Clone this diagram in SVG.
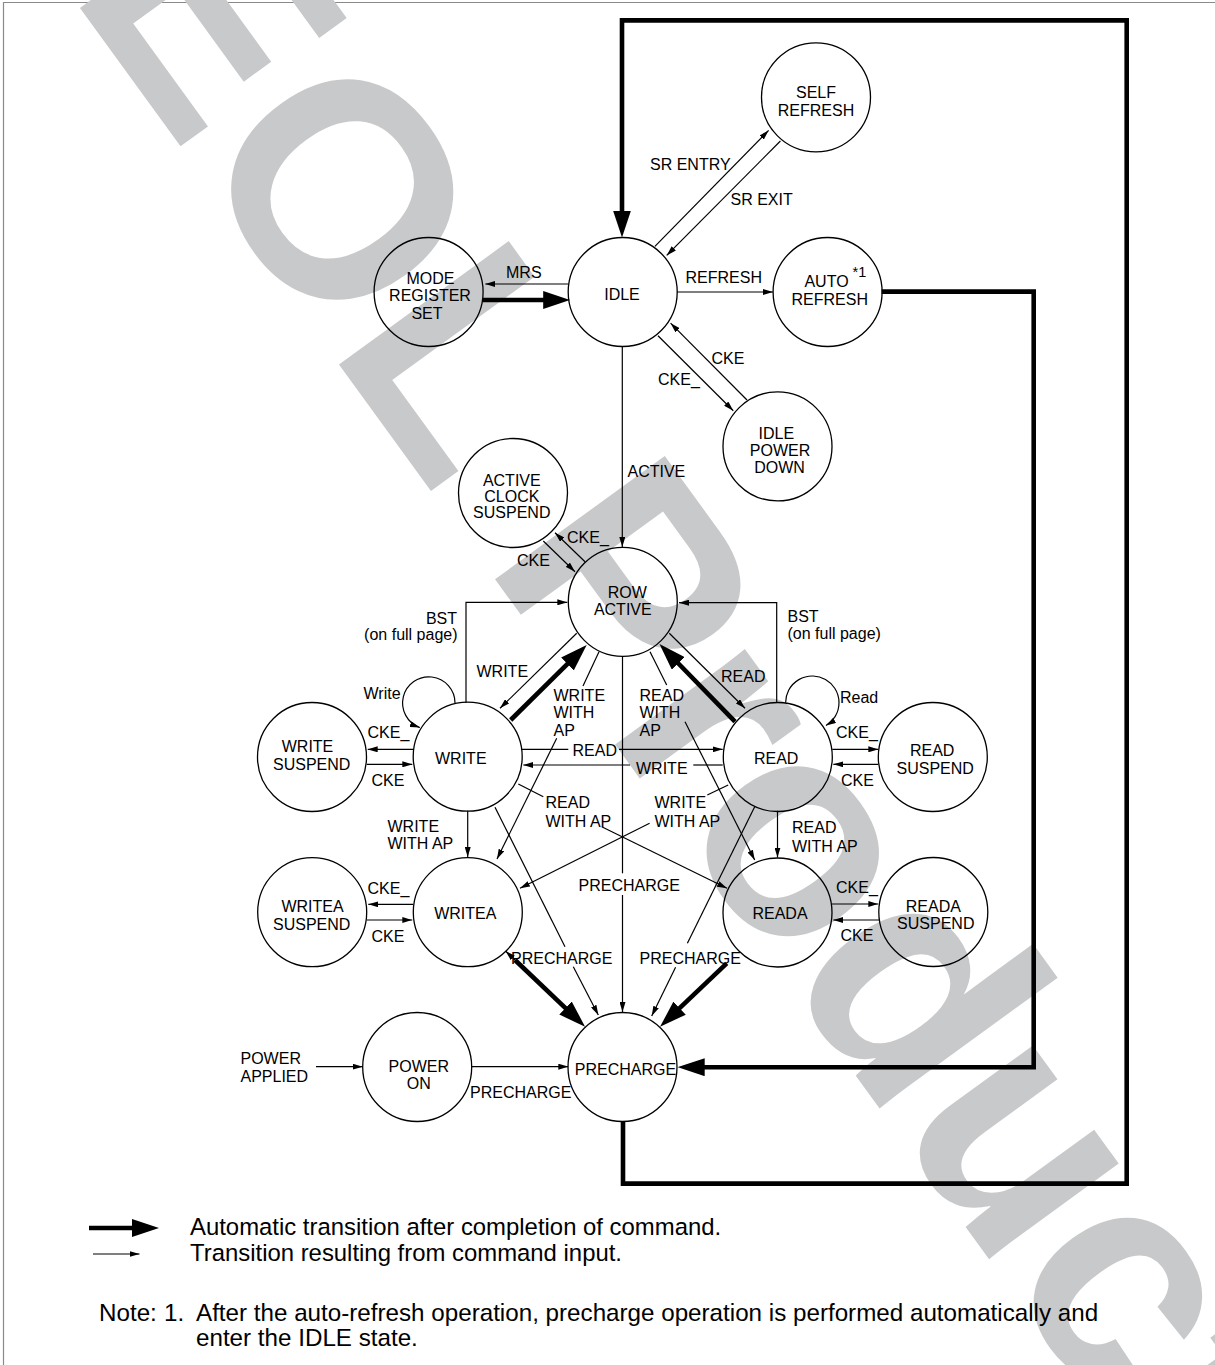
<svg xmlns="http://www.w3.org/2000/svg" width="1215" height="1365" viewBox="0 0 1215 1365">
<defs>
<style>
text{font-family:"Liberation Sans",Arial,Helvetica,sans-serif;font-size:16px;fill:#000}
.m{text-anchor:middle}
.e{text-anchor:end}
.wm{font-weight:bold;font-size:305px;fill:#c8c9cb}
circle{fill:none;stroke:#000;stroke-width:1.3}
.t{fill:none;stroke:#000;stroke-width:1.2}
.k{fill:none;stroke:#000;stroke-width:4.6}
.ta{marker-end:url(#a)}
.ka{marker-end:url(#A)}
.lg{font-size:23.9px}
.nt{font-size:24.2px}
.sup{font-size:14.5px}
</style>
<marker id="a" viewBox="0 0 10 6" refX="10" refY="3" markerWidth="10" markerHeight="6" markerUnits="userSpaceOnUse" orient="auto"><path d="M0,0L10,3L0,6z"/></marker>
<marker id="A" viewBox="0 0 27 18" refX="4" refY="9" markerWidth="27" markerHeight="18" markerUnits="userSpaceOnUse" orient="auto"><path d="M0,0L27,9L0,18z"/></marker>
</defs>
<rect width="1215" height="1365" fill="#fff"/>
<path d="M3.5 1365V2.5H1215" fill="none" stroke="#8a8a8a" stroke-width="1.2"/>
<text class="wm" transform="rotate(54)" x="33" y="-60">EOL Product</text>

<g id="connectors">
<path class="k" d="M623 1121.7V1183.6H1126.7V20.4H622V214.5" marker-end="url(#A)"/>
<path class="k ka" d="M881.6 291.6H1033.7V1067.2H700.7"/>
<path class="k ka" d="M483 300H547.2"/>
<path class="k ka" d="M510.7 720L570.3 661.2"/>
<path class="k ka" d="M735 721.7L675.5 660.5"/>
<path class="k ka" d="M515 960L568.4 1010.8"/>
<path class="t ta" d="M515 960L505.5 951"/>
<path class="k ka" d="M726.7 963.3L676.7 1010.9"/>

<path class="t ta" d="M568.3 284H485.3"/>
<path class="t ta" d="M677 292H773"/>
<path class="t ta" d="M654.9 246.4L768.6 130.4"/>
<path class="t ta" d="M780.4 141L666.7 255.4"/>
<path class="t ta" d="M747 400L670.6 323.2"/>
<path class="t ta" d="M658 335.7L733.3 410.7"/>
<path class="t ta" d="M622.3 346.5V547"/>
<path class="t ta" d="M585 561.7L555 532.7"/>
<path class="t ta" d="M543.3 541L575 571.7"/>
<path class="t ta" d="M466 702.7V602.3H567.3"/>
<path class="t ta" d="M776.7 702.7V602.7H679"/>
<path class="t ta" d="M576.7 633.3L500 708.3"/>
<path class="t ta" d="M669.3 633.3L745 708.3"/>
<path class="t" d="M599 651.7L583 686"/>
<path class="t ta" d="M556.7 738.3L497 859"/>
<path class="t" d="M650 651.7L666.7 685"/>
<path class="t ta" d="M685 721.7L754.7 860"/>
<path class="t ta" d="M455 703A26.2 26.2 0 1 0 419.8 727.6"/>
<path class="t ta" d="M785.6 702.7A26.7 26.7 0 1 1 826 725.6"/>
<path class="t ta" d="M413.3 749.3H367.7"/>
<path class="t ta" d="M366.7 764.3H412.3"/>
<path class="t ta" d="M832.3 749.3H878.3"/>
<path class="t ta" d="M878.3 764.3H833.3"/>
<path class="t" d="M521.7 749.3H568.3"/>
<path class="t ta" d="M619 749.3H722.7"/>
<path class="t" d="M722.7 765H693.3"/>
<path class="t ta" d="M630 765H523.3"/>
<path class="t" d="M518.3 784L543.3 796.7"/>
<path class="t ta" d="M601.7 826.7L727 888.3"/>
<path class="t" d="M728.2 785L707.3 795"/>
<path class="t ta" d="M649.6 823.3L520 888.3"/>
<path class="t ta" d="M467.7 810.7V857"/>
<path class="t ta" d="M777.5 810.7V857.5"/>
<path class="t" d="M622.5 656.3V873.3"/>
<path class="t ta" d="M622.5 895V1012"/>
<path class="t ta" d="M413.3 904.3H368.3"/>
<path class="t ta" d="M366.7 920H412.3"/>
<path class="t ta" d="M831.7 904H878.3"/>
<path class="t ta" d="M879 920H833.3"/>
<path class="t" d="M495 807.3L565 946.7"/>
<path class="t ta" d="M573.3 966.7L598.3 1015"/>
<path class="t" d="M754.7 806.7L687.4 943.3"/>
<path class="t ta" d="M675.6 967.3L651.7 1016"/>
<path class="t ta" d="M471.7 1066.7H568.3"/>
<path class="t ta" d="M316 1066.7H362.7"/>
</g>

<g id="edge-labels">
<text x="506" y="278">MRS</text>
<text x="685.5" y="283">REFRESH</text>
<text x="650" y="169.6">SR ENTRY</text>
<text x="730.5" y="204.6">SR EXIT</text>
<text x="711.5" y="364.3">CKE</text>
<text x="658" y="384.7">CKE_</text>
<text x="627.5" y="476.7">ACTIVE</text>
<text x="567" y="542.7">CKE_</text>
<text x="517" y="566">CKE</text>
<text class="e" x="457" y="624.3">BST</text>
<text class="e" x="457.5" y="640">(on full page)</text>
<text x="787.5" y="622.3">BST</text>
<text x="787.5" y="638.5">(on full page)</text>
<text x="476.5" y="677.3">WRITE</text>
<text x="721" y="681.5">READ</text>
<text x="553.5" y="700.7">WRITE</text>
<text x="553.5" y="718.3">WITH</text>
<text x="553.5" y="736">AP</text>
<text x="639.5" y="700.7">READ</text>
<text x="639.5" y="718.3">WITH</text>
<text x="639.5" y="736">AP</text>
<text x="363.5" y="699.3">Write</text>
<text x="840" y="702.7">Read</text>
<text x="367.5" y="738.3">CKE_</text>
<text x="371.5" y="786">CKE</text>
<text x="836" y="738.3">CKE_</text>
<text x="841" y="786">CKE</text>
<text x="572.5" y="755.7">READ</text>
<text x="636" y="774">WRITE</text>
<text x="545.5" y="808.3">READ</text>
<text x="545.5" y="826.7">WITH AP</text>
<text x="654.5" y="808.3">WRITE</text>
<text x="654.5" y="826.7">WITH AP</text>
<text x="387.5" y="831.7">WRITE</text>
<text x="387.5" y="849.3">WITH AP</text>
<text x="792" y="833.3">READ</text>
<text x="792" y="851.7">WITH AP</text>
<text x="578.5" y="890.7">PRECHARGE</text>
<text x="367.5" y="894">CKE_</text>
<text x="371.5" y="941.7">CKE</text>
<text x="836" y="893.3">CKE_</text>
<text x="840.5" y="940.7">CKE</text>
<text x="511" y="964.3">PRECHARGE</text>
<text x="639.5" y="964">PRECHARGE</text>
<text x="470" y="1098.3">PRECHARGE</text>
<text x="240.5" y="1064.3">POWER</text>
<text x="240.5" y="1082.3">APPLIED</text>
</g>

<g id="self-refresh"><circle cx="816" cy="97.3" r="54.5"/><text class="m" x="816" y="97.5">SELF</text><text class="m" x="816" y="115.5">REFRESH</text></g>
<g id="idle"><circle cx="622.7" cy="292" r="54.5"/><text class="m" x="622" y="299.5">IDLE</text></g>
<g id="mode-register-set"><circle cx="428.6" cy="292" r="54.5"/><text class="m" x="430.5" y="283.5">MODE</text><text class="m" x="430" y="301">REGISTER</text><text class="m" x="427" y="318.5">SET</text></g>
<g id="auto-refresh"><circle cx="827.6" cy="292" r="54.5"/><text class="m" x="826.5" y="287">AUTO</text><text class="sup" x="852.5" y="277">*1</text><text class="m" x="829.8" y="305">REFRESH</text></g>
<g id="idle-power-down"><circle cx="777.5" cy="446.4" r="54.5"/><text class="m" x="776.4" y="438.5">IDLE</text><text class="m" x="780" y="455.5">POWER</text><text class="m" x="779.6" y="473">DOWN</text></g>
<g id="active-clock-suspend"><circle cx="513" cy="493" r="54.5"/><text class="m" x="511.8" y="485.7">ACTIVE</text><text class="m" x="511.8" y="501.5">CLOCK</text><text class="m" x="511.8" y="518.3">SUSPEND</text></g>
<g id="row-active"><circle cx="622.8" cy="601.8" r="54.5"/><text class="m" x="627.2" y="598.3">ROW</text><text class="m" x="622.8" y="615">ACTIVE</text></g>
<g id="write-suspend"><circle cx="312" cy="757" r="54.5"/><text class="m" x="307.5" y="752.3">WRITE</text><text class="m" x="311.7" y="770">SUSPEND</text></g>
<g id="write"><circle cx="467.7" cy="756.7" r="54.5"/><text class="m" x="460.8" y="764">WRITE</text></g>
<g id="read"><circle cx="777.8" cy="757" r="54.5"/><text class="m" x="776.2" y="764">READ</text></g>
<g id="read-suspend"><circle cx="932.8" cy="757" r="54.5"/><text class="m" x="932.2" y="756">READ</text><text class="m" x="935.2" y="774">SUSPEND</text></g>
<g id="writea-suspend"><circle cx="312.2" cy="912.2" r="54.5"/><text class="m" x="312.5" y="911.7">WRITEA</text><text class="m" x="311.7" y="930">SUSPEND</text></g>
<g id="writea"><circle cx="467.8" cy="912.2" r="54.5"/><text class="m" x="465.3" y="919.3">WRITEA</text></g>
<g id="reada"><circle cx="777.5" cy="912.5" r="54.5"/><text class="m" x="780" y="919.3">READA</text></g>
<g id="reada-suspend"><circle cx="933.3" cy="912" r="54.5"/><text class="m" x="933.3" y="911.7">READA</text><text class="m" x="935.8" y="929.3">SUSPEND</text></g>
<g id="power-on"><circle cx="417.2" cy="1067" r="54.5"/><text class="m" x="418.8" y="1071.7">POWER</text><text class="m" x="418.7" y="1089.3">ON</text></g>
<g id="precharge"><circle cx="622.5" cy="1067" r="54.5"/><text class="m" x="625.5" y="1075">PRECHARGE</text></g>

<g id="legend">
<path class="k ka" d="M89 1228H136"/>
<path class="t ta" d="M93 1254H139.5"/>
<text class="lg" x="190" y="1234.5">Automatic transition after completion of command.</text>
<text class="lg" x="190" y="1260.5">Transition resulting from command input.</text>
<text class="nt" x="99" y="1321">Note:</text>
<text class="nt" x="164" y="1321">1.</text>
<text class="nt" x="196" y="1321">After the auto-refresh operation, precharge operation is performed automatically and</text>
<text class="nt" x="196" y="1346">enter the IDLE state.</text>
</g>
</svg>
